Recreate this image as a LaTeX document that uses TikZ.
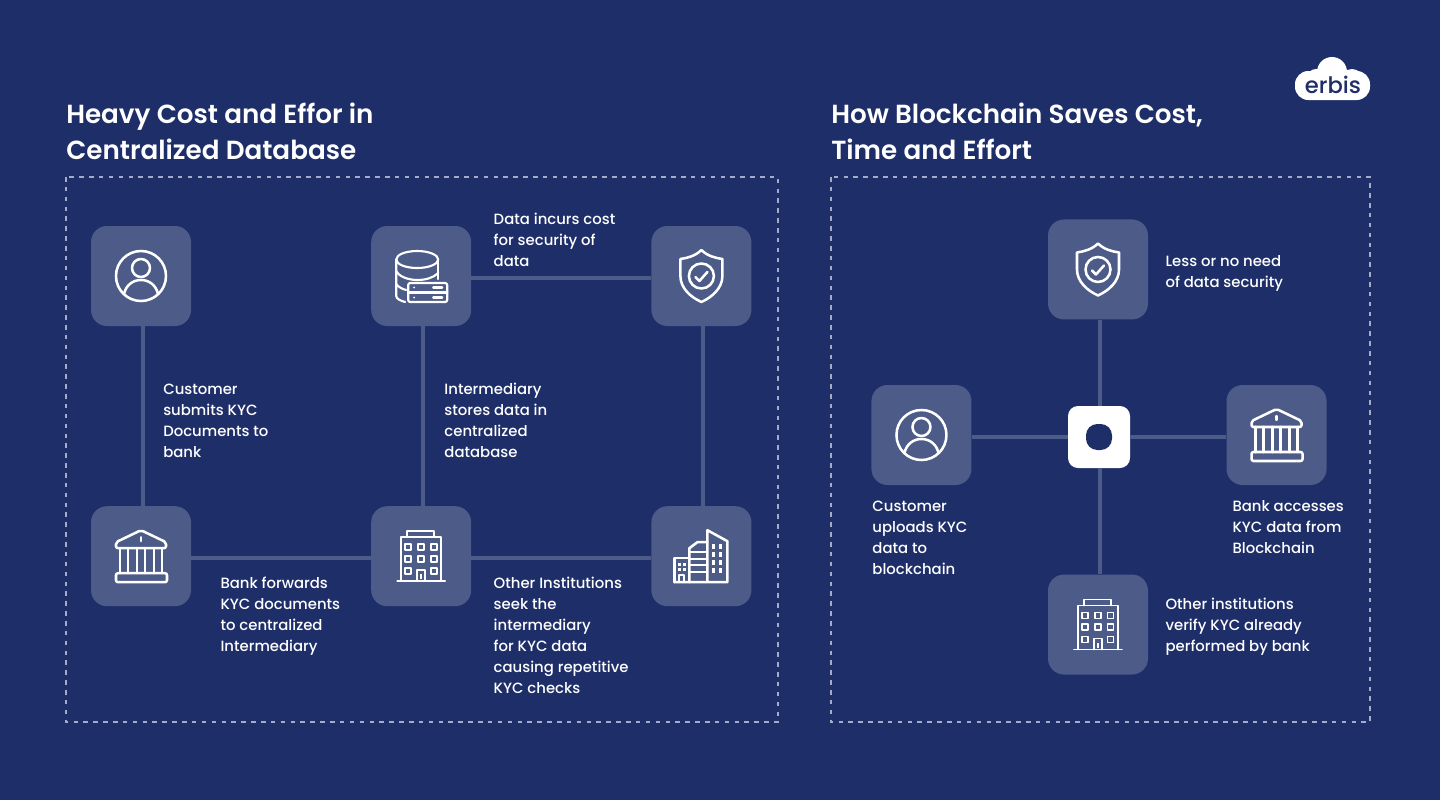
\documentclass[tikz,border=0pt]{standalone}
\usepackage{fontspec}
\setmainfont{Poppins}[BoldFont=Poppins SemiBold]
\newfontfamily\medfont{Poppins Medium}
\usetikzlibrary{positioning}
\definecolor{navybg}{HTML}{1E2E69}
\definecolor{tilecol}{HTML}{4D5B89}
\definecolor{framecol}{HTML}{A5ADC6}
\tikzset{%
  tile/.style={fill=tilecol, rounded corners=12pt, minimum size=75pt, inner sep=0pt},
  lnk/.style={draw=tilecol, line width=3pt},
  lbl/.style={text=white, align=left, inner sep=0pt, font=\medfont\fontsize{11.15}{15.75}\selectfont, execute at begin node={\strut}},
  ttl/.style={text=white, align=left, inner sep=0pt, anchor=base west, font=\fontsize{19.65}{27}\selectfont\bfseries},
  frm/.style={draw=framecol, line width=0.8pt, dash pattern=on 3.4pt off 4pt},
  icn/.style={draw=white, line width=1.9pt, line join=round, line cap=round},
  thn/.style={icn, line width=1.6pt},
  hrl/.style={icn, line width=1.35pt},
  userpic/.pic={
    \draw[icn] (0,0) circle (25);
    \draw[icn] (0,-8) circle (9);
    \draw[icn] (-17,18) .. controls (-15,9) and (-8,4) .. (0,4) .. controls (8,4) and (15,9) .. (17,18);
  },
  dbpic/.pic={
    \draw[thn] (-4,-16.5) ellipse (21 and 8.5);
    \draw[thn] (-25,-16.5) -- (-25,20) .. controls (-25,23) and (-20,25) .. (-16,26);
    \draw[thn] (17,-16.5) -- (17,3);
    \draw[thn] (-25,-5) .. controls (-22,1) and (-12,4) .. (-4,4) .. controls (4,4) and (12,2) .. (17,-3);
    \draw[thn] (-25,8) .. controls (-23,11) and (-19,13) .. (-15,14);
    \draw[thn, rounded corners=1.5pt] (-13,7) rectangle (26,26);
    \draw[thn] (-13,16.5) -- (26,16.5);
    \draw[thn] (12,11.5) -- (21,11.5);
    \draw[thn] (12,21.5) -- (21,21.5);
    \fill[white] (-7,11.5) circle (1) (-7,21.5) circle (1);
  },
  shieldpic/.pic={
    \draw[icn] (0,-26) .. controls (-6,-20) and (-14,-18) .. (-21,-17) -- (-21,0) .. controls (-21,12) and (-11,21) .. (0,26)
      .. controls (11,21) and (21,12) .. (21,0) -- (21,-17) .. controls (14,-18) and (6,-20) .. (0,-26) -- cycle;
    \draw[icn] (0,0) circle (12.5);
    \draw[icn] (-6,1) -- (-2,5) -- (6,-4);
  },
  bankpic/.pic={
    \draw[icn, rounded corners=1.5pt] (0,-26) -- (25,-14) -- (25,-8) -- (-25,-8) -- (-25,-14) -- cycle;
    \draw[icn, rounded corners=1.5pt] (-25,17) rectangle (26,26);
    \draw[icn] (-21,-8) -- (-21,17) (-13,-8) -- (-13,17) (-4,-8) -- (-4,17) (4,-8) -- (4,17) (13,-8) -- (13,17) (21,-8) -- (21,17);
    \draw[thn] (0,-19) -- (0,-15);
  },
  officepic/.pic={
    \draw[hrl] (-20,25) -- (-20,-19) -- (20,-19) -- (20,25);
    \draw[hrl] (-14,-19) -- (-14,-25) -- (13,-25) -- (13,-19);
    \draw[hrl] (-24,25) -- (24,25);
    \foreach \wx in {-13,0,12.5} \foreach \wy in {-9,2.5}
      \draw[hrl] (\wx-3,\wy-3) rectangle (\wx+3,\wy+3);
    \draw[hrl] (-16,12) rectangle (-10,18) (9.5,12) rectangle (15.5,18);
    \draw[hrl] (-4,25) -- (-4,14) -- (4,14) -- (4,25);
    \fill[white] (-1,18) rectangle (1,23);
  },
  citypic/.pic={
    \draw[icn] (-27,26) -- (26,26) -- (26,-15) -- (6,-26) -- (6,26);
    \draw[icn] (6,-14) -- (-4,-14) -- (-12,-8) -- (-12,26);
    \draw[icn] (-12,2) -- (-27,2) -- (-27,26);
    \draw[thn] (-12,-4) -- (6,-4) (-12,2.5) -- (6,2.5) (-12,9) -- (6,9) (-12,16) -- (6,16);
    \foreach \wx in {12,19} \foreach \wy in {-10,-2,6,14}
      \fill[white] (\wx-1.3,\wy-2.5) rectangle (\wx+1.3,\wy+2.5);
    \foreach \wx in {-22,-17} \foreach \wy in {8,13}
      \fill[white] (\wx-1.3,\wy-1.3) rectangle (\wx+1.3,\wy+1.3);
    \draw[thn] (-22,26) -- (-22,19) -- (-17,19) -- (-17,26);
  }
}

\begin{document}
\begin{tikzpicture}[x=0.75pt, y=-0.75pt]
  \useasboundingbox (0,0) rectangle (1440,800);
  \fill[navybg] (0,0) rectangle (1440,800);
  \node[ttl] (ttlA) at (66,159) {Heavy Cost and Effor in\\Centralized Database};
  \node[ttl] (ttlB) at (831,159) {How Blockchain Saves Cost,\\Time and Effort};
  \draw[frm] (66,177) rectangle (778,722);
  \draw[frm] (831,177) rectangle (1370,722);

  \node[tile] (usr)  at (141,276) {};
  \node[tile] (db)   [right = 134.75pt of usr]  {};
  \node[tile] (shd)  [right = 134.75pt of db]   {};
  \node[tile] (bnk)  [below = 134.75pt of usr]  {};
  \node[tile] (off)  [below = 134.75pt of db]   {};
  \node[tile] (cty)  [below = 134.75pt of shd]  {};
  \path[lnk]
  ([xshift=1.5pt]usr.south) edge ([xshift=1.5pt]bnk.north)
  ([xshift=1.5pt]db.south)  edge ([xshift=1.5pt]off.north)
  ([xshift=1.5pt]shd.south) edge ([xshift=1.5pt]cty.north)
  ([yshift=-1.5pt]db.east)  edge ([yshift=-1.5pt]shd.west)
  ([yshift=-1.5pt]bnk.east) edge ([yshift=-1.5pt]off.west)
  ([yshift=-1.5pt]off.east) edge ([yshift=-1.5pt]cty.west);
  \pic at (usr) {userpic};
  \pic at (db)  {dbpic};
  \pic at (shd) {shieldpic};
  \pic at (bnk) {bankpic};
  \pic at (off) {officepic};
  \pic at (cty) {citypic};

  \node[lbl] (tusr) [below right = 42.9pt and 16.5pt of usr.south]     {Customer\\submits KYC\\Documents to\\bank};
  \node[lbl] (tdb)  [below right = 42.75pt and 17.25pt of db.south]    {Intermediary\\stores data in\\centralized\\database};
  \node[lbl] (tshd) [below right = -9.75pt and 16.5pt of db.north east] {Data incurs cost\\for security of\\data};
  \node[lbl] (tbnk) [below right = 15.75pt and 21.75pt of bnk.east]    {Bank forwards\\KYC documents\\to centralized\\Intermediary};
  \node[lbl] (toff) [below right = 15.75pt and 16.5pt of off.east]     {Other Institutions\\seek the\\intermediary\\for KYC data\\causing repetitive\\KYC checks};

  \node[fill=white, rounded corners=7.5pt, minimum size=46.5pt, inner sep=0pt] (hub) at (1099,437) {};
  \node[fill=navybg, rounded corners=8.5pt, minimum size=19.5pt, inner sep=0pt] (hubin) at (hub) {};
  \node[tile] (shdB) [above = 64.5pt of hub, xshift=-0.75pt]  {};
  \node[tile] (offB) [below = 79.5pt of hub, xshift=-0.75pt]  {};
  \node[tile] (usrB) [left = 72pt of hub, yshift=1.5pt]       {};
  \node[tile] (bnkB) [right = 72pt of hub, yshift=1.5pt]      {};
  \path[lnk]
  ([xshift=1.5pt]shdB.south) edge ([xshift=1.5pt]shdB.south |- hub.north)
  ([xshift=1.5pt]offB.north) edge ([xshift=1.5pt]offB.north |- hub.south)
  ([yshift=-1.5pt]usrB.east) edge ([yshift=-1.5pt]usrB.east -| hub.west)
  ([yshift=-1.5pt]bnkB.west) edge ([yshift=-1.5pt]bnkB.west -| hub.east);
  \pic at (shdB) {shieldpic};
  \pic at (offB) {officepic};
  \pic at (usrB) {userpic};
  \pic at (bnkB) {bankpic};

  \node[lbl] (tshdB) [below right = -10.5pt and 12.75pt of shdB.east]   {Less or no need\\of data security};
  \node[lbl] (tusrB) [below right = 11.25pt and 0.75pt of usrB.south west] {Customer\\uploads KYC\\data to\\blockchain};
  \node[lbl] (tbnkB) [below right = 11.25pt and 4.5pt of bnkB.south west] {Bank accesses\\KYC data from\\Blockchain};
  \node[lbl] (toffB) [below right = -20.25pt and 12.75pt of offB.east]  {Other institutions\\verify KYC already\\performed by bank};

  \fill[white, rounded corners=10pt] (1295,71) rectangle (1370,100);
  \fill[white] (1332,72) circle (15) (1316,78) circle (9) (1352,80) circle (11);
  \node[text=navybg, inner sep=0pt, font=\medfont\fontsize{17}{17}\selectfont] (logo) at (1333,85) {erbis};
\end{tikzpicture}
\end{document}
